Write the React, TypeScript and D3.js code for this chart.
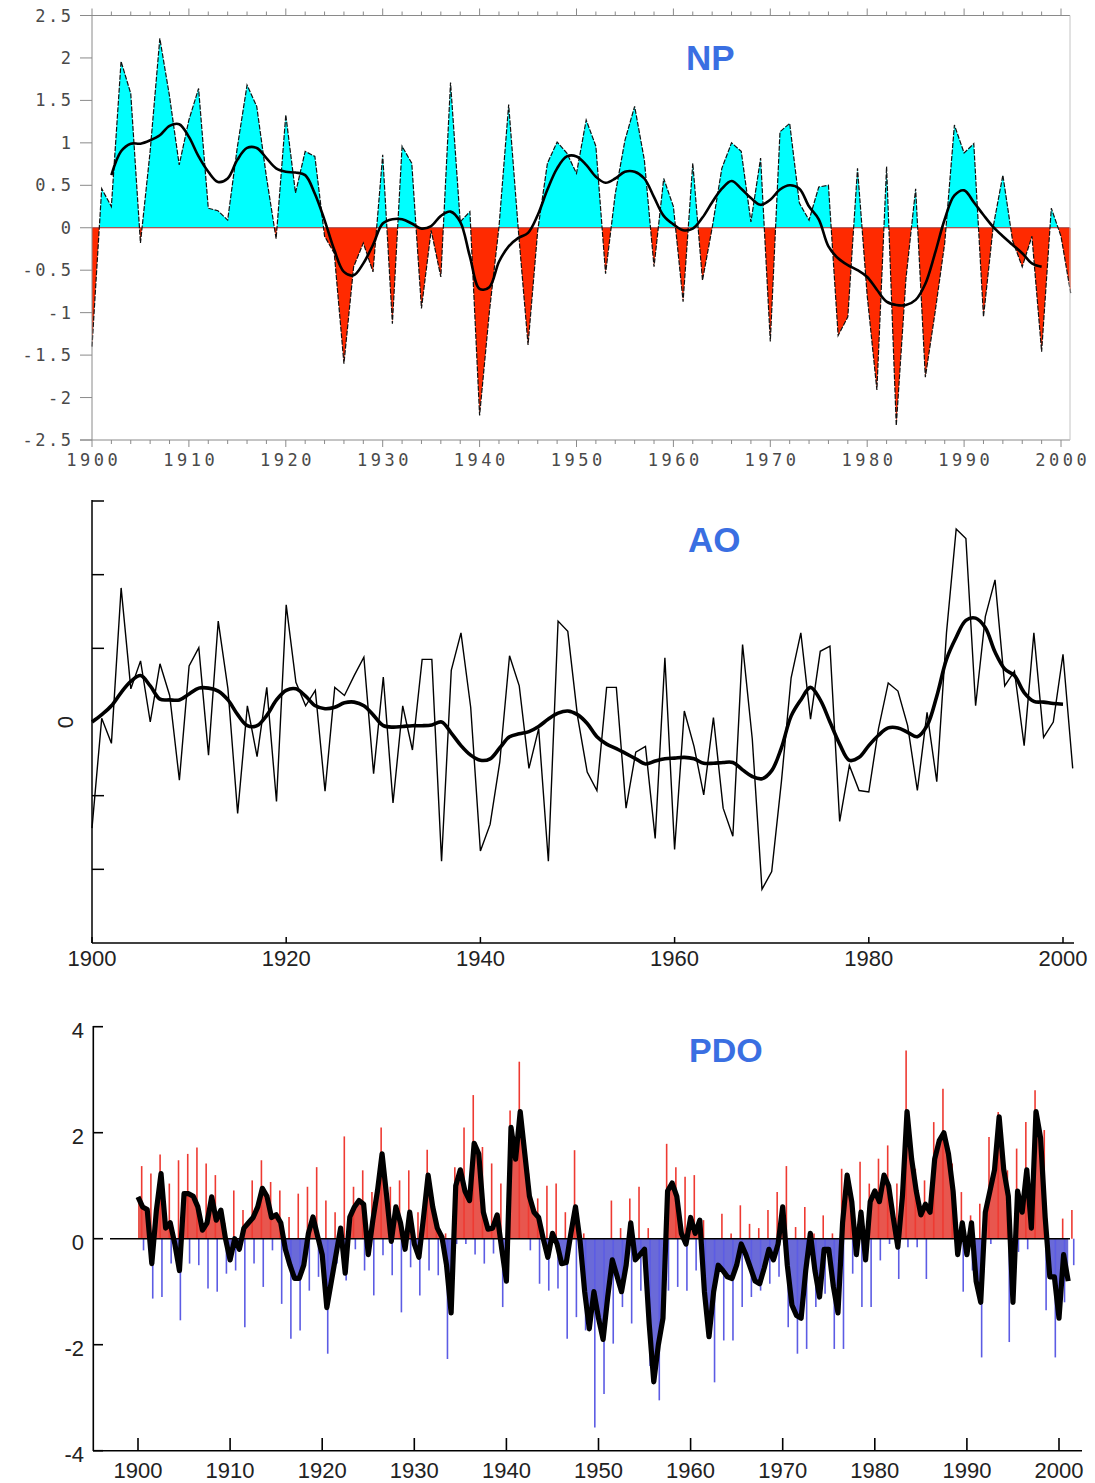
import { useEffect, useRef } from 'react';
import * as d3 from 'd3';

// ---- NP index (annual, 1900-2001) ----
const npStart = 1900;
const npValues = [
  -1.4, 0.46, 0.25, 1.96, 1.58, -0.18, 0.9, 2.23, 1.55, 0.74,
  1.27, 1.64, 0.23, 0.2, 0.09, 0.95, 1.68, 1.43, 0.6, -0.13,
  1.33, 0.41, 0.9, 0.84, -0.1, -0.3, -1.6, -0.46, -0.18, -0.52,
  0.86, -1.13, 0.96, 0.76, -0.95, -0.03, -0.58, 1.71, 0.07, 0.19,
  -2.21, -1.0, 0.01, 1.45, -0.03, -1.38, -0.03, 0.76, 1.01, 0.88,
  0.64, 1.27, 0.96, -0.54, 0.4, 1.03, 1.43, 0.8, -0.46, 0.58,
  0.25, -0.87, 0.76, -0.62, 0.0, 0.7, 1.0, 0.9, 0.07, 0.82,
  -1.34, 1.13, 1.23, 0.29, 0.09, 0.48, 0.5, -1.27, -1.05, 0.7,
  -0.8, -1.91, 0.72, -2.33, -0.6, 0.46, -1.76, -1.0, -0.18, 1.21,
  0.88, 0.99, -1.05, 0.01, 0.62, -0.15, -0.46, -0.1, -1.46, 0.23,
  -0.1, -0.77,
];
// smoothed NP (1902-1998)
const npSmoothStart = 1902;
const npSmooth = [
  0.62, 0.9, 0.99, 0.99, 1.03, 1.09, 1.2, 1.22,
  1.07, 0.84, 0.66, 0.54, 0.58, 0.8, 0.94, 0.94, 0.82, 0.7,
  0.66, 0.65, 0.62, 0.4, 0.09, -0.26, -0.52, -0.56, -0.42, -0.2,
  0.05, 0.1, 0.1, 0.05, -0.01, 0.02, 0.14, 0.19, 0.07, -0.34,
  -0.72, -0.7, -0.4, -0.22, -0.12, -0.06, 0.15, 0.45, 0.7, 0.84,
  0.84, 0.74, 0.6, 0.53, 0.58, 0.66, 0.66, 0.58, 0.36, 0.14,
  0.04, -0.03, -0.01, 0.12, 0.3, 0.46, 0.55, 0.46, 0.35, 0.27,
  0.33, 0.45, 0.5, 0.46, 0.25, 0.1, -0.22, -0.36, -0.44, -0.5,
  -0.58, -0.73, -0.87, -0.91, -0.91, -0.85, -0.66, -0.3, 0.1, 0.38,
  0.44, 0.3, 0.15, 0.01, -0.1, -0.2, -0.3, -0.42, -0.46,
];
const npTicks = [2.5, 2, 1.5, 1, 0.5, 0, -0.5, -1, -1.5, -2, -2.5];
const npYearLabels = [1900, 1910, 1920, 1930, 1940, 1950, 1960, 1970, 1980, 1990, 2000];

// ---- AO index (annual, 1900-2001) ----
const aoStart = 1900;
const aoValues = [
  -1.44, 0.05, -0.29, 1.82, 0.45, 0.83, 0.0, 0.79, 0.36, -0.79,
  0.76, 1.01, -0.45, 1.37, 0.45, -1.24, 0.22, -0.47, 0.47, -1.08,
  1.59, 0.54, 0.22, 0.43, -0.94, 0.47, 0.36, 0.63, 0.88, -0.7,
  0.61, -1.1, 0.22, -0.38, 0.85, 0.85, -1.89, 0.7, 1.21, 0.2,
  -1.75, -1.39, -0.54, 0.9, 0.49, -0.63, -0.09, -1.89, 1.37, 1.23,
  0.08, -0.68, -0.93, 0.47, 0.47, -1.17, -0.41, -0.33, -1.58, 0.87,
  -1.73, 0.15, -0.33, -0.99, 0.06, -1.17, -1.55, 1.05, -0.23, -2.27,
  -2.03, -0.81, 0.6, 1.21, 0.04, 0.96, 1.03, -1.35, -0.59, -0.93,
  -0.95, -0.09, 0.53, 0.42, -0.05, -0.93, 0.13, -0.81, 1.21, 2.62,
  2.49, 0.22, 1.43, 1.93, 0.49, 0.69, -0.32, 1.21, -0.21, 0.0,
  0.92, -0.63,
];
// smoothed AO (1900-2000)
const aoSmooth = [
  0.0, 0.1, 0.22, 0.4, 0.55, 0.63, 0.49, 0.31, 0.3, 0.3,
  0.38, 0.46, 0.46, 0.42, 0.3, 0.1, -0.05, -0.05, 0.09, 0.3,
  0.43, 0.45, 0.35, 0.22, 0.18, 0.2, 0.26, 0.27, 0.22, 0.09,
  -0.05, -0.07, -0.06, -0.05, -0.05, -0.04, 0.0, -0.15, -0.32, -0.45,
  -0.52, -0.5, -0.35, -0.2, -0.16, -0.13, -0.06, 0.04, 0.12, 0.15,
  0.1, -0.02, -0.2, -0.3, -0.36, -0.43, -0.5, -0.57, -0.53, -0.5,
  -0.49, -0.48, -0.5, -0.56, -0.56, -0.55, -0.55, -0.65, -0.74, -0.77,
  -0.66, -0.35, 0.08, 0.3, 0.47, 0.3, 0.0, -0.3, -0.52, -0.48,
  -0.32, -0.18, -0.08, -0.08, -0.14, -0.2, -0.05, 0.35, 0.85, 1.15,
  1.38, 1.41, 1.28, 0.95, 0.72, 0.63, 0.4, 0.28, 0.27, 0.25,
  0.24,
];
const aoTicks = [3, 2, 1, -1, -2];
const aoYearLabels = [1900, 1920, 1940, 1960, 1980, 2000];

// ---- PDO index (half-yearly running mean, 1900.0-2001.0) ----
const pdoStart = 1900;
const pdoStep = 0.5;
const pdoSmooth = [
  0.79, 0.6, 0.55, -0.47, 0.54, 1.23, 0.2, 0.3, -0.1, -0.6,
  0.85, 0.85, 0.8, 0.6, 0.16, 0.3, 0.79, 0.35, 0.54, 0.0,
  -0.4, 0.0, -0.2, 0.2, 0.3, 0.4, 0.6, 0.95, 0.8, 0.4,
  0.45, 0.3, -0.2, -0.5, -0.75, -0.75, -0.5, 0.1, 0.41, 0.05,
  -0.3, -1.3, -0.8, -0.3, 0.2, -0.65, 0.41, 0.6, 0.72, 0.65,
  -0.3, 0.35, 0.9, 1.6, 0.8, -0.05, 0.6, 0.3, -0.2, 0.5,
  -0.1, -0.35, 0.4, 1.2, 0.6, 0.2, 0.03, -0.5, -1.4, 1.0,
  1.3, 0.9, 0.72, 1.8, 1.6, 0.5, 0.18, 0.2, 0.45, -0.2,
  -0.8, 2.1, 1.5, 2.4, 1.6, 0.8, 0.5, 0.4, 0.0, -0.35,
  0.1, -0.1, -0.47, -0.45, 0.1, 0.6, -0.05, -1.0, -1.7, -1.0,
  -1.5, -1.9, -1.1, -0.4, -0.7, -1.0, -0.5, 0.3, -0.4, -0.3,
  -0.2, -1.6, -2.7, -2.0, -1.5, 0.9, 1.05, 0.8, 0.1, -0.1,
  0.4, 0.1, 0.35, -1.0, -1.85, -1.0, -0.5, -0.6, -0.72, -0.75,
  -0.5, -0.1, -0.3, -0.55, -0.8, -0.85, -0.55, -0.2, -0.4, -0.1,
  0.6, -0.5, -1.25, -1.45, -1.5, -0.6, 0.1, -0.6, -1.1, -0.2,
  -0.2, -0.9, -1.4, 0.3, 1.2, 0.7, -0.3, 0.5, -0.4, 0.7,
  0.9, 0.7, 1.2, 1.0, 0.4, -0.16, 0.8, 2.4, 1.5, 0.9,
  0.45, 0.65, 0.5, 1.5, 1.85, 2.0, 1.6, 0.9, -0.3, 0.3,
  -0.3, 0.3, -0.8, -1.2, 0.5, 0.9, 1.3, 2.3, 1.3, 0.8,
  -1.2, 0.9, 0.5, 1.3, 0.2, 2.4, 1.9, 0.4, -0.72, -0.72,
  -1.5, -0.3, -0.8,
];
// highest and lowest monthly value of each year (1900-2001)
const pdoMax = [
  1.37, 1.23, 1.59, 1.04, 1.48, 1.6, 1.72, 1.42, 1.2, 0.3,
  0.91, 0.54, 1.1, 1.48, 1.07, 0.91, 0.41, 0.85, 0.98, 1.35,
  0.72, 0.5, 1.93, 0.98, 1.29, 0.88, 2.1, 0.98, 1.1, 1.29,
  0.5, 1.68, 0.28, 0.1, 1.35, 2.1, 2.71, 1.73, 1.42, 1.04,
  2.42, 3.34, 1.23, 0.76, 1.0, 1.04, 0.5, 1.67, 0.1, 0,
  0, 0.72, 0.2, 0.76, 0.98, 0.2, 0, 1.79, 1.35, 1.17,
  1.2, 0.35, 0, 0.47, 0.1, 0.63, 0.28, 0.2, 0.54, 0.88,
  1.37, 0.22, 0.6, 0.1, 0.44, 0.1, 1.32, 0.72, 1.45, 1.04,
  1.51, 1.76, 1.04, 3.55, 1.32, 1.1, 2.2, 2.83, 1.42, 0.88,
  0.44, 0.66, 1.92, 2.39, 1.29, 1.7, 2.2, 2.8, 2.05, 0,
  0.38, 0.54,
];
const pdoMin = [
  -0.22, -1.13, -1.1, -0.47, -1.54, -0.47, -0.5, -0.94, -1.0, -0.66,
  -0.6, -1.67, -0.47, -0.91, -0.22, -1.23, -1.89, -1.73, -0.98, -0.72,
  -2.17, -0.47, -0.79, -0.2, -0.6, -1.07, -0.31, -0.69, -1.39, -0.54,
  -1.07, -0.6, -0.69, -2.27, -0.1, -0.1, -0.3, -0.47, -0.28, -1.29,
  0, 0, -0.22, -0.85, -0.98, -0.94, -1.89, -1.48, -1.73, -3.56,
  -2.93, -1.98, -1.29, -1.6, -0.98, -2.4, -3.05, -0.98, -0.91, -0.98,
  -0.6, -1.42, -2.71, -1.92, -1.92, -1.29, -1.1, -0.98, -0.85, -0.72,
  -1.67, -2.17, -2.08, -1.29, -1.04, -2.08, -2.08, -0.66, -1.29, -1.29,
  -0.41, -0.1, -0.76, -0.16, -0.16, -0.76, 0, 0, 0, -1.0,
  -0.6, -2.24, -0.1, 0, -1.95, -0.25, -0.2, 0, -1.35, -2.24,
  -1.2, -0.5,
];
const pdoTicks = [4, 2, 0, -2, -4];
const pdoYearLabels = [1900, 1910, 1920, 1930, 1940, 1950, 1960, 1970, 1980, 1990, 2000];

type Pt = [number, number];

function drawNP(svg: d3.Selection<SVGSVGElement, unknown, null, undefined>) {
  const x = d3.scaleLinear().domain([1900, 2000]).range([92, 1061]);
  const y = d3.scaleLinear().domain([-2.5, 2.5]).range([440, 15.5]);
  const g = svg.append('g');
  const y0 = y(0);

  const defs = svg.append('defs');
  defs.append('clipPath').attr('id', 'np-pos')
    .append('rect').attr('x', 0).attr('y', 0).attr('width', 1095).attr('height', y0);
  defs.append('clipPath').attr('id', 'np-neg')
    .append('rect').attr('x', 0).attr('y', y0).attr('width', 1095).attr('height', 500 - y0);

  const pts: Pt[] = npValues.map((v, i) => [npStart + i, v]);
  const area = d3.area<Pt>().x(d => x(d[0])).y0(y0).y1(d => y(d[1]));
  const line = d3.line<Pt>().x(d => x(d[0])).y(d => y(d[1]));

  g.append('path').attr('d', area(pts)).attr('fill', '#00ffff').attr('clip-path', 'url(#np-pos)');
  g.append('path').attr('d', area(pts)).attr('fill', '#ff2a00').attr('clip-path', 'url(#np-neg)');

  // zero line
  g.append('line').attr('x1', 92).attr('x2', 1070).attr('y1', y0).attr('y2', y0)
    .attr('stroke', '#a83030').attr('stroke-width', 1);

  g.append('path').attr('d', line(pts)).attr('fill', 'none')
    .attr('stroke', '#111').attr('stroke-width', 1.2).attr('stroke-dasharray', '5,1.5');

  const smooth: Pt[] = npSmooth.map((v, i) => [npSmoothStart + i, v]);
  g.append('path').attr('d', d3.line<Pt>().x(d => x(d[0])).y(d => y(d[1])).curve(d3.curveCatmullRom)(smooth))
    .attr('fill', 'none').attr('stroke', '#000').attr('stroke-width', 2.6);

  // frame
  const frame = '#8a8a8a';
  g.append('line').attr('x1', 80).attr('x2', 1070).attr('y1', 15.5).attr('y2', 15.5).attr('stroke', frame);
  g.append('line').attr('x1', 80).attr('x2', 1070).attr('y1', 440).attr('y2', 440).attr('stroke', frame);
  g.append('line').attr('x1', 92).attr('x2', 92).attr('y1', 15.5).attr('y2', 440).attr('stroke', frame);
  g.append('line').attr('x1', 1070).attr('x2', 1070).attr('y1', 15.5).attr('y2', 440).attr('stroke', '#c4c4c4');

  const minor = d3.range(1900, 2001, 2);
  minor.forEach(yr => {
    const len = yr % 10 === 0 ? 7 : 4;
    g.append('line').attr('x1', x(yr)).attr('x2', x(yr)).attr('y1', 15.5).attr('y2', 15.5 - len).attr('stroke', frame);
    g.append('line').attr('x1', x(yr)).attr('x2', x(yr)).attr('y1', 440).attr('y2', 440 + len).attr('stroke', frame);
  });

  const font = 'DejaVu Sans Mono, Liberation Mono, monospace';
  const lsY = 2.5;
  npTicks.forEach(v => {
    g.append('line').attr('x1', 80).attr('x2', 92).attr('y1', y(v)).attr('y2', y(v)).attr('stroke', frame);
    g.append('text').attr('x', 71 + lsY).attr('y', y(v) + 6)
      .attr('text-anchor', 'end').attr('font-family', font)
      .attr('font-size', 17).attr('letter-spacing', lsY).attr('fill', '#4a4a4a')
      .text(d3.format('~g')(v).replace('−', '-'));
  });
  const lsX = 3.5;
  npYearLabels.forEach(yr => {
    g.append('text').attr('x', x(yr) + lsX / 2).attr('y', 466)
      .attr('text-anchor', 'middle').attr('font-family', font)
      .attr('font-size', 17).attr('letter-spacing', lsX).attr('fill', '#4a4a4a')
      .text(yr);
  });

  g.append('text').attr('x', 686).attr('y', 70)
    .attr('font-family', 'Liberation Sans, Arial, sans-serif').attr('font-weight', 'bold')
    .attr('font-size', 35).attr('fill', '#3a6fe2').text('NP');
}

function drawAO(svg: d3.Selection<SVGSVGElement, unknown, null, undefined>) {
  const x = d3.scaleLinear().domain([1900, 2000]).range([92, 1063]);
  const y = d3.scaleLinear().domain([-3, 3]).range([943, 501]);
  const g = svg.append('g');

  const pts: Pt[] = aoValues.map((v, i) => [aoStart + i, v]);
  g.append('path').attr('d', d3.line<Pt>().x(d => x(d[0])).y(d => y(d[1]))(pts))
    .attr('fill', 'none').attr('stroke', '#000').attr('stroke-width', 1.4);

  const smooth: Pt[] = aoSmooth.map((v, i) => [aoStart + i, v]);
  g.append('path').attr('d', d3.line<Pt>().x(d => x(d[0])).y(d => y(d[1])).curve(d3.curveCatmullRom)(smooth))
    .attr('fill', 'none').attr('stroke', '#000').attr('stroke-width', 3.6);

  // axes
  g.append('line').attr('x1', 92).attr('x2', 92).attr('y1', 500).attr('y2', 943).attr('stroke', '#000').attr('stroke-width', 1.5);
  g.append('line').attr('x1', 92).attr('x2', 1074).attr('y1', 943).attr('y2', 943).attr('stroke', '#000').attr('stroke-width', 1.5);
  aoTicks.forEach(v => {
    g.append('line').attr('x1', 92).attr('x2', 104).attr('y1', y(v)).attr('y2', y(v)).attr('stroke', '#000').attr('stroke-width', 1.5);
  });
  aoYearLabels.forEach(yr => {
    g.append('line').attr('x1', x(yr)).attr('x2', x(yr)).attr('y1', 943).attr('y2', 937).attr('stroke', '#000').attr('stroke-width', 1.5);
    g.append('text').attr('x', x(yr)).attr('y', 966).attr('text-anchor', 'middle')
      .attr('font-family', 'Liberation Sans, Arial, sans-serif').attr('font-size', 22).attr('fill', '#222').text(yr);
  });
  g.append('text').attr('transform', `translate(73, ${y(0)}) rotate(-90)`).attr('text-anchor', 'middle')
    .attr('font-family', 'Liberation Sans, Arial, sans-serif').attr('font-size', 22).attr('fill', '#222').text('0');

  g.append('text').attr('x', 688).attr('y', 552)
    .attr('font-family', 'Liberation Sans, Arial, sans-serif').attr('font-weight', 'bold')
    .attr('font-size', 35).attr('fill', '#3a6fe2').text('AO');
}

function drawPDO(svg: d3.Selection<SVGSVGElement, unknown, null, undefined>) {
  const x = d3.scaleLinear().domain([1900, 2000]).range([138, 1059]);
  const y = d3.scaleLinear().domain([-4, 4]).range([1450.7, 1026.7]);
  const g = svg.append('g');
  const y0 = y(0);

  const defs = svg.append('defs');
  defs.append('clipPath').attr('id', 'pdo-pos')
    .append('rect').attr('x', 0).attr('y', 990).attr('width', 1095).attr('height', y0 - 990);
  defs.append('clipPath').attr('id', 'pdo-neg')
    .append('rect').attr('x', 0).attr('y', y0).attr('width', 1095).attr('height', 1460 - y0);

  const pts: Pt[] = pdoSmooth.map((v, i) => [pdoStart + i * pdoStep, v]);
  const area = d3.area<Pt>().x(d => x(d[0])).y0(y0).y1(d => y(d[1]));
  g.append('path').attr('d', area(pts)).attr('fill', '#e8564e').attr('clip-path', 'url(#pdo-pos)');
  g.append('path').attr('d', area(pts)).attr('fill', '#6a6ad8').attr('clip-path', 'url(#pdo-neg)');

  pdoMax.forEach((v, i) => {
    if (v <= 0) return;
    const xx = x(pdoStart + i + 0.4);
    g.append('line').attr('x1', xx).attr('x2', xx).attr('y1', y0).attr('y2', y(v))
      .attr('stroke', '#ee3a32').attr('stroke-width', 1.6);
  });
  pdoMin.forEach((v, i) => {
    if (v >= 0) return;
    const xx = x(pdoStart + i + 0.6);
    g.append('line').attr('x1', xx).attr('x2', xx).attr('y1', y0).attr('y2', y(v))
      .attr('stroke', '#5c5ce4').attr('stroke-width', 1.6);
  });

  // zero line
  g.append('line').attr('x1', 110).attr('x2', 1070).attr('y1', y0).attr('y2', y0)
    .attr('stroke', '#000').attr('stroke-width', 1.5);

  g.append('path').attr('d', d3.line<Pt>().x(d => x(d[0])).y(d => y(d[1]))(pts))
    .attr('fill', 'none').attr('stroke', '#000').attr('stroke-width', 5.2).attr('stroke-linejoin', 'round');

  // axes
  g.append('line').attr('x1', 93.3).attr('x2', 93.3).attr('y1', 1026).attr('y2', 1451).attr('stroke', '#000').attr('stroke-width', 1.6);
  g.append('line').attr('x1', 93).attr('x2', 1082).attr('y1', 1450.7).attr('y2', 1450.7).attr('stroke', '#000').attr('stroke-width', 1.6);
  pdoTicks.forEach(v => {
    g.append('line').attr('x1', 93).attr('x2', 103).attr('y1', y(v)).attr('y2', y(v)).attr('stroke', '#000').attr('stroke-width', 1.6);
    g.append('text').attr('x', 84).attr('y', y(v) + 11).attr('text-anchor', 'end')
      .attr('font-family', 'Liberation Sans, Arial, sans-serif').attr('font-size', 22).attr('fill', '#222').text(v);
  });
  pdoYearLabels.forEach(yr => {
    g.append('line').attr('x1', x(yr)).attr('x2', x(yr)).attr('y1', 1450.7).attr('y2', 1438).attr('stroke', '#000').attr('stroke-width', 1.6);
    g.append('text').attr('x', x(yr)).attr('y', 1478).attr('text-anchor', 'middle')
      .attr('font-family', 'Liberation Sans, Arial, sans-serif').attr('font-size', 22).attr('fill', '#222').text(yr);
  });

  g.append('text').attr('x', 689).attr('y', 1062)
    .attr('font-family', 'Liberation Sans, Arial, sans-serif').attr('font-weight', 'bold')
    .attr('font-size', 34).attr('fill', '#3a6fe2').text('PDO');
}

export default function App() {
  const svgRef = useRef<SVGSVGElement>(null);

  useEffect(() => {
    if (!svgRef.current) return;
    const svg = d3.select(svgRef.current);
    svg.selectAll('*').remove();
    drawNP(svg);
    drawAO(svg);
    drawPDO(svg);
  }, []);

  return (
    <svg
      ref={svgRef}
      width={1095}
      height={1483}
      style={{ position: 'absolute', left: 0, top: 0, background: '#fff' }}
    />
  );
}
